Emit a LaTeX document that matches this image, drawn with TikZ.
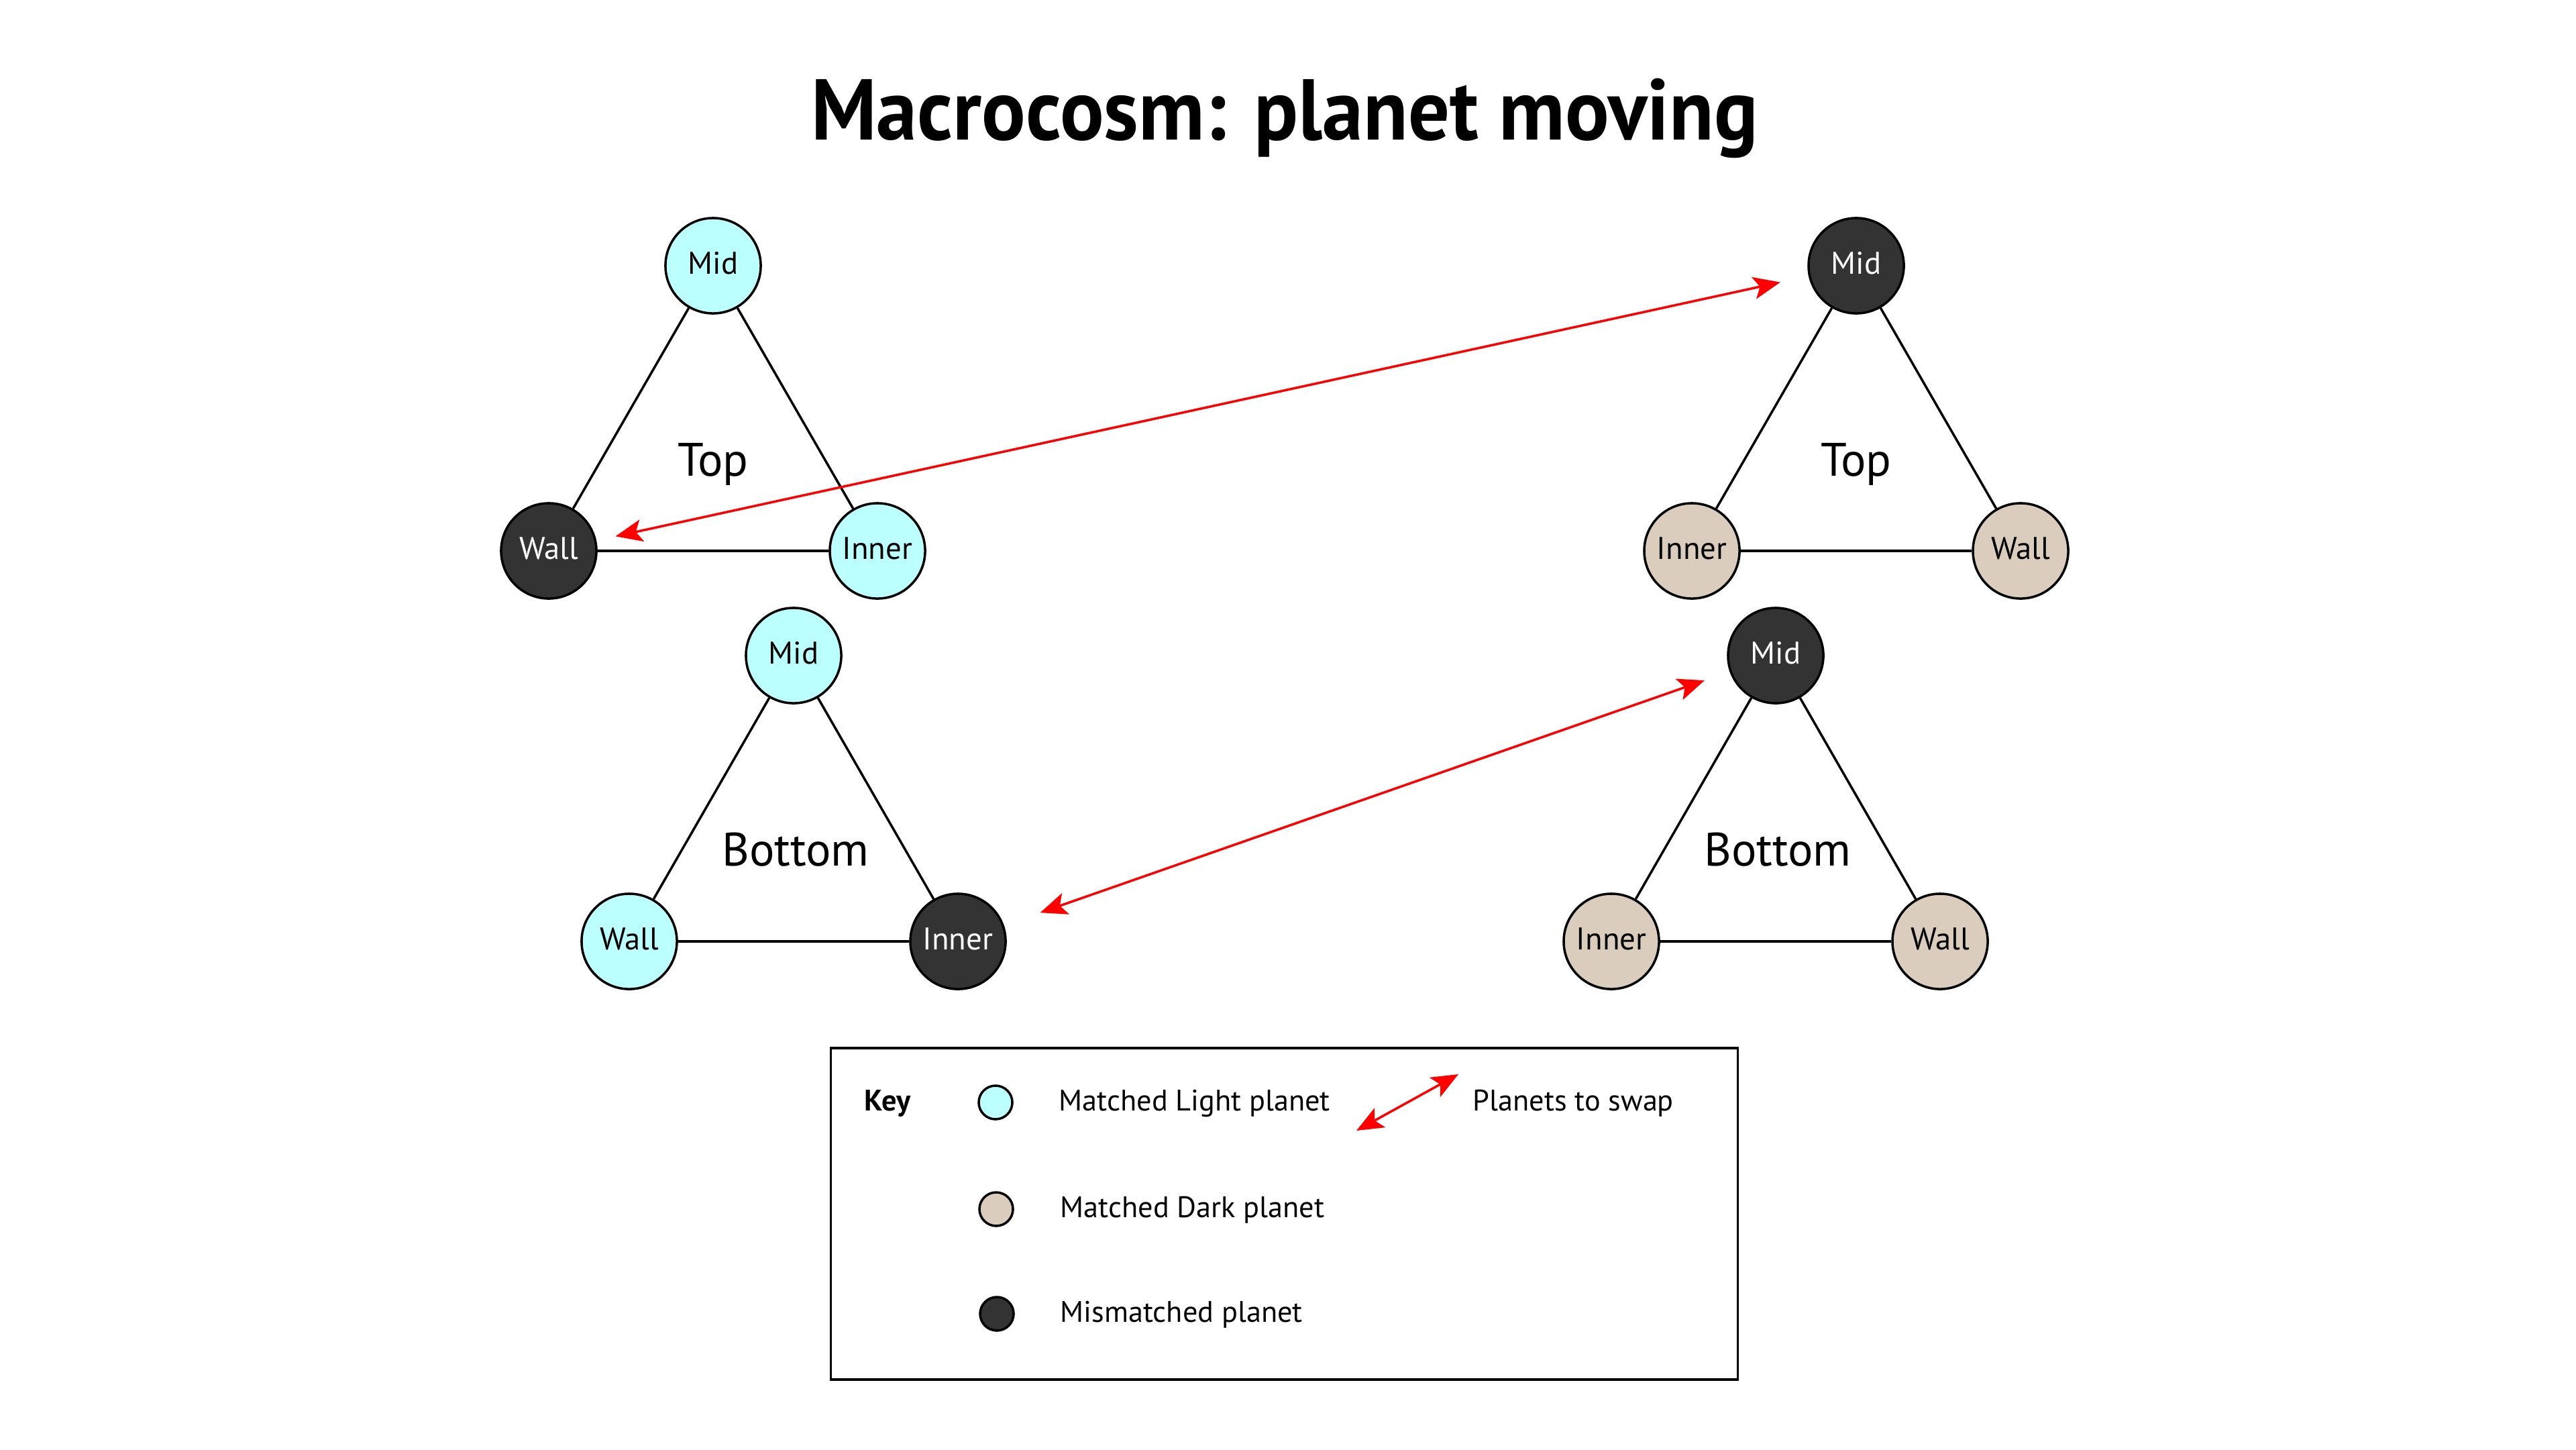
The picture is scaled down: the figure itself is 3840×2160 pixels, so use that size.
\documentclass[tikz,border=0pt]{standalone}
\usepackage{fontspec}
\setmainfont{PT Sans}
\newfontfamily\titlefont[FakeStretch=0.95]{PT Sans}
\usetikzlibrary{arrows.meta}
\definecolor{lightp}{HTML}{BBFFFF}
\definecolor{darkp}{HTML}{DBCDBD}
\definecolor{misp}{HTML}{333333}
\tikzset{
  planet/.style={circle,draw=black,line width=1pt,minimum size=1.42cm,inner sep=0pt,
    font=\fontsize{13.3pt}{15pt}\selectfont,text height=0.7em,text depth=0pt},
  lightplanet/.style={planet,fill=lightp,text=black},
  darkplanet/.style={planet,fill=darkp,text=black},
  misplanet/.style={planet,fill=misp,text=white},
  edge/.style={line width=1pt,black},
  swap/.style={line width=1pt,red,{Stealth[length=0.4cm,width=0.33cm,inset=0.09cm]}-{Stealth[length=0.4cm,width=0.33cm,inset=0.09cm]}},
  tri/.style={font=\fontsize{19.9pt}{22pt}\selectfont,anchor=base,inner sep=0pt},
  keycirc/.style={circle,draw=black,line width=1pt,minimum size=0.5cm,inner sep=0pt},
  keytext/.style={font=\fontsize{12.6pt}{14pt}\selectfont,anchor=west,inner sep=0pt,text height=0.7em,text depth=0pt},
}
\begin{document}
\begin{tikzpicture}[x=0.01cm,y=-0.01cm]
\useasboundingbox[fill=white] (0,0) rectangle (3840,2160);
% title
\node[font=\titlefont\bfseries\fontsize{36.6pt}{40pt}\selectfont,anchor=base,inner sep=0pt] (title) at (1915,208) {Macrocosm: planet moving};
% top-left
\node[lightplanet] (tlmid) at (1063,396) {Mid};
\node[misplanet] (tlwall) at (818,821) {Wall};
\node[lightplanet] (tlinner) at (1308,821) {Inner};
\node[tri] (tltop) at (1063,709) {Top};
\draw[edge] (tlmid) -- (tlwall);
\draw[edge] (tlmid) -- (tlinner);
\draw[edge] (tlwall) -- (tlinner);
% bottom-left
\node[lightplanet] (blmid) at (1183,977) {Mid};
\node[lightplanet] (blwall) at (938,1403) {Wall};
\node[misplanet] (blinner) at (1428,1403) {Inner};
\node[tri] (blbot) at (1186,1290) {Bottom};
\draw[edge] (blmid) -- (blwall);
\draw[edge] (blmid) -- (blinner);
\draw[edge] (blwall) -- (blinner);
% top-right
\node[misplanet] (trmid) at (2767,396) {Mid};
\node[darkplanet] (trinner) at (2522,821) {Inner};
\node[darkplanet] (trwall) at (3012,821) {Wall};
\node[tri] (trtop) at (2767,709) {Top};
\draw[edge] (trmid) -- (trinner);
\draw[edge] (trmid) -- (trwall);
\draw[edge] (trinner) -- (trwall);
% bottom-right
\node[misplanet] (brmid) at (2647,977) {Mid};
\node[darkplanet] (brinner) at (2402,1403) {Inner};
\node[darkplanet] (brwall) at (2892,1403) {Wall};
\node[tri] (brbot) at (2650,1290) {Bottom};
\draw[edge] (brmid) -- (brinner);
\draw[edge] (brmid) -- (brwall);
\draw[edge] (brinner) -- (brwall);
% swaps
\draw[swap,shorten <=0.29cm,shorten >=0.43cm] (tlwall) -- (trmid);
\draw[swap,shorten <=0.57cm,shorten >=0.395cm] (blinner) -- (brmid);
% key
\node[draw=black,line width=1pt,minimum width=13.51cm,minimum height=4.94cm,inner sep=0pt] (keybox) at (1914.5,1809) {};
\node[font=\bfseries\fontsize{12.6pt}{14pt}\selectfont,anchor=west,inner sep=0pt,text height=0.7em,text depth=0pt] (keylabel) at (1288,1643) {Key};
\node[keycirc,fill=lightp] (k1) at (1484,1643) {};
\node[keycirc,fill=darkp] (k2) at (1485,1802) {};
\node[keycirc,fill=misp] (k3) at (1486,1958) {};
\node[keytext] (k1t) at (1578,1643) {Matched Light planet};
\node[keytext] (k2t) at (1580,1802) {Matched Dark planet};
\node[keytext] (k3t) at (1580,1958) {Mismatched planet};
\coordinate (ka) at (2022,1685);
\coordinate (kb) at (2174,1601);
\draw[swap] (ka) -- (kb);
\node[keytext] (k4t) at (2195,1643) {Planets to swap};
\end{tikzpicture}
\end{document}
